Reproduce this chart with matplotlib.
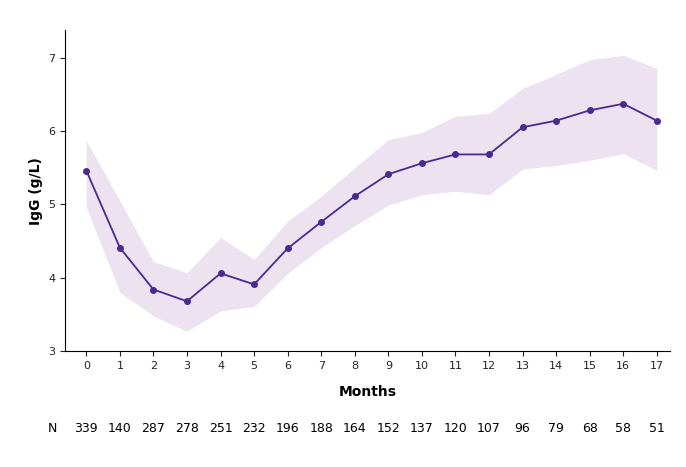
import matplotlib
matplotlib.use("Agg")
import matplotlib.pyplot as plt

months = list(range(18))
igg = [5.46,4.41,3.84,3.68,4.06,3.91,4.40,4.76,5.11,5.41,5.56,5.68,5.68,6.05,6.14,6.28,6.37,6.14]
upper = [5.87,5.05,4.22,4.07,4.55,4.25,4.77,5.11,5.50,5.88,5.98,6.20,6.24,6.58,6.77,6.97,7.03,6.85]
lower = [4.96,3.80,3.48,3.27,3.55,3.61,4.06,4.41,4.71,4.99,5.13,5.18,5.13,5.48,5.53,5.60,5.69,5.46]
n_vals = [339,140,287,278,251,232,196,188,164,152,137,120,107,96,79,68,58,51]

fig = plt.figure(figsize=(6.86,4.67), dpi=100)
ax = fig.add_axes([0.095,0.248,0.882,0.687])
ax.fill_between(months, lower, upper, color="#ede2f0", lw=0)
ax.plot(months, igg, color="#4b2a8f", lw=1.3, marker="o", ms=4)
ax.set_xlim(-0.63,17.4)
ax.set_ylim(3,7.37)
ax.set_xticks(months)
ax.set_yticks([3,4,5,6,7])
ax.tick_params(labelsize=8, colors="#222222")
for s in ["top","right"]:
    ax.spines[s].set_visible(False)
ax.set_xlabel("Months", fontsize=10, fontweight="bold", labelpad=10)
ax.set_ylabel("IgG (g/L)", fontsize=10, fontweight="bold")
ax.text(-1.0, 3 - 1.05, "N", fontsize=9, ha="center", va="center", transform=ax.transData)
for m, n in zip(months, n_vals):
    ax.text(m, 3 - 1.05, str(n), fontsize=9, ha="center", va="center")
fig.savefig("out.png", dpi=100)
